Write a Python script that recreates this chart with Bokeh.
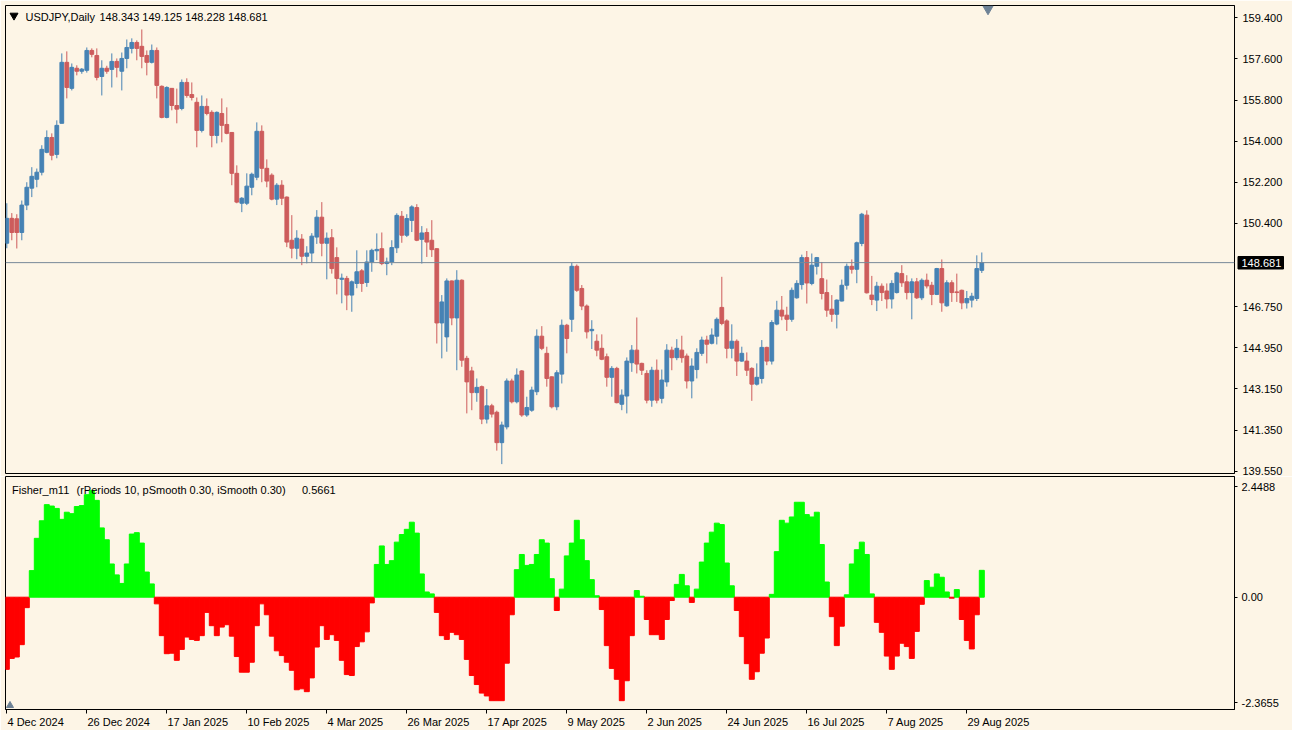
from bokeh.plotting import figure
from bokeh.layouts import column
from bokeh.models import (Range1d, LinearAxis, FixedTicker, NumeralTickFormatter,
                          Label, Span, ColumnDataSource)
from bokeh.core.properties import value
from bokeh.embed import file_html
from bokeh.resources import INLINE

# ---------------- data ----------------
symbol = "USDJPY,Daily"
opens = [149.53, 150.62, 150.60, 150.00, 151.20, 151.94, 152.33, 152.64, 153.51, 154.16,
         153.42, 154.78, 157.45, 156.31, 157.19, 157.06, 157.10, 157.97, 157.75, 156.83,
         157.19, 157.14, 157.49, 157.06, 157.62, 158.06, 158.32, 158.15, 157.75, 157.45,
         157.97, 156.40, 155.04, 156.31, 155.56, 155.43, 156.57, 156.04, 155.70, 154.47,
         155.52, 155.26, 154.25, 155.21, 154.73, 154.38, 152.59, 151.28, 151.28, 151.98,
         152.42, 154.43, 152.81, 152.51, 151.46, 152.07, 151.55, 149.66, 149.31, 149.71,
         148.96, 149.10, 149.80, 150.67, 149.53, 149.77, 148.90, 147.95, 147.99, 147.26,
         147.77, 148.32, 147.81, 148.71, 149.20, 149.29, 148.64, 148.71, 149.33, 150.71,
         149.88, 150.53, 151.09, 149.70, 150.00, 149.66, 149.29, 146.04, 145.43, 147.88,
         146.26, 147.91, 144.49, 143.94, 142.99, 143.25, 141.83, 142.41, 142.13, 140.80,
         141.49, 143.50, 142.59, 143.94, 142.01, 142.22, 143.03, 145.46, 144.71, 143.68,
         142.37, 143.80, 145.94, 146.20, 148.52, 147.55, 146.78, 145.70, 145.24, 144.93,
         144.56, 143.66, 144.05, 142.48, 142.84, 144.30, 144.85, 144.27, 143.83, 142.66,
         143.97, 142.74, 143.46, 144.85, 144.52, 144.85, 144.59, 143.50, 144.00, 144.71,
         145.29, 145.15, 145.46, 146.72, 146.13, 144.93, 145.24, 144.37, 144.37, 144.05,
         143.36, 143.61, 144.97, 144.37, 145.99, 146.60, 146.38, 146.20, 147.14, 147.72,
         148.90, 147.77, 148.52, 147.98, 147.37, 146.64, 146.42, 147.00, 147.69, 148.52,
         148.39, 149.52, 150.76, 147.26, 147.04, 147.65, 147.44, 147.09, 147.37, 148.20,
         147.84, 147.37, 147.84, 147.14, 147.91, 147.69, 147.29, 148.42, 146.79, 147.80,
         147.40, 147.47, 146.92, 147.04, 147.11, 148.343]
highs = [151.28, 150.85, 150.80, 151.40, 152.20, 152.86, 152.80, 153.82, 154.47, 154.34,
         154.91, 157.84, 157.93, 157.40, 157.32, 157.20, 158.10, 158.06, 158.06, 157.54,
         157.30, 157.84, 157.62, 157.88, 158.45, 158.50, 158.41, 158.89, 157.97, 158.23,
         158.10, 156.44, 156.40, 156.31, 156.30, 156.70, 156.75, 156.57, 155.91, 156.00,
         155.87, 155.35, 155.30, 155.87, 155.48, 154.40, 152.94, 151.55, 152.59, 152.62,
         154.82, 154.69, 153.20, 152.59, 152.16, 152.29, 151.58, 150.76, 150.10, 149.93,
         149.40, 149.97, 150.98, 151.33, 150.00, 150.15, 149.35, 148.20, 148.10, 147.90,
         149.22, 148.40, 149.22, 149.29, 149.96, 150.00, 148.90, 149.66, 150.84, 150.94,
         150.80, 151.19, 151.24, 150.28, 150.18, 150.54, 149.31, 147.26, 147.99, 147.90,
         148.35, 147.95, 144.60, 144.12, 143.61, 143.30, 143.15, 142.50, 142.20, 141.72,
         143.61, 143.60, 144.05, 143.98, 142.81, 143.25, 145.76, 145.90, 145.00, 143.70,
         143.97, 146.19, 146.00, 148.67, 148.60, 147.70, 146.85, 146.16, 145.54, 145.54,
         144.70, 144.15, 144.12, 143.13, 144.53, 145.07, 146.28, 144.30, 143.97, 144.12,
         144.44, 144.00, 145.11, 145.00, 145.33, 145.48, 144.70, 144.49, 144.93, 145.44,
         145.48, 145.80, 146.28, 148.06, 146.20, 145.98, 145.32, 145.00, 144.75, 144.10,
         144.27, 145.29, 145.00, 146.16, 147.01, 147.22, 146.75, 147.59, 147.91, 149.03,
         149.19, 149.08, 148.93, 148.71, 147.94, 147.26, 147.07, 147.94, 148.64, 148.82,
         149.60, 150.86, 150.97, 148.10, 147.84, 147.77, 147.77, 147.91, 148.28, 148.57,
         148.13, 147.99, 148.01, 147.99, 148.20, 147.84, 148.45, 148.82, 147.91, 147.91,
         148.20, 147.50, 147.44, 147.36, 149.00, 149.125]
lows = [149.31, 149.66, 149.30, 149.66, 150.98, 151.55, 151.98, 152.50, 153.47, 153.16,
        153.25, 154.78, 155.87, 156.22, 156.88, 156.95, 157.00, 157.67, 156.66, 156.00,
        156.95, 156.35, 156.79, 156.22, 157.19, 157.84, 157.54, 157.19, 156.88, 157.40,
        155.87, 155.00, 155.00, 155.35, 154.78, 155.35, 155.90, 155.78, 153.73, 154.38,
        155.13, 153.73, 153.90, 153.95, 154.30, 152.07, 151.28, 150.89, 151.20, 151.63,
        152.29, 152.20, 151.98, 151.41, 151.20, 151.20, 149.36, 148.87, 148.83, 148.57,
        148.65, 148.70, 149.50, 148.96, 147.95, 148.20, 147.29, 146.90, 146.60, 146.53,
        147.56, 147.40, 147.62, 148.28, 148.79, 148.57, 148.13, 148.57, 149.10, 149.55,
        149.80, 150.02, 149.62, 148.64, 148.93, 148.93, 145.14, 144.49, 144.78, 145.94,
        143.97, 144.12, 142.08, 142.22, 142.59, 141.61, 141.64, 141.90, 140.45, 139.86,
        141.38, 142.52, 142.52, 141.93, 141.93, 142.15, 142.88, 144.85, 143.25, 142.30,
        142.22, 143.39, 144.71, 145.65, 147.40, 146.60, 145.36, 144.90, 144.58, 144.41,
        143.25, 142.81, 142.52, 142.22, 142.08, 143.90, 143.83, 143.76, 142.52, 142.37,
        142.52, 142.52, 143.25, 143.97, 144.41, 144.30, 143.17, 142.74, 143.61, 144.60,
        144.27, 145.10, 145.10, 145.94, 144.49, 144.49, 143.72, 144.34, 143.72, 142.63,
        143.30, 143.39, 144.19, 144.22, 145.94, 146.16, 145.69, 146.09, 147.10, 147.50,
        146.89, 147.69, 148.16, 147.07, 146.31, 146.09, 145.80, 146.98, 147.50, 148.20,
        147.78, 149.40, 147.33, 146.82, 146.56, 147.00, 146.67, 146.67, 147.33, 147.62,
        147.07, 146.20, 147.09, 147.04, 147.55, 146.82, 147.26, 146.53, 146.75, 146.96,
        146.96, 146.64, 146.67, 146.72, 147.00, 148.228]
closes = [150.62, 150.00, 150.00, 151.20, 151.98, 152.46, 152.64, 153.64, 154.16, 153.38,
          154.69, 157.45, 156.35, 157.23, 157.06, 157.15, 157.97, 157.80, 156.79, 157.19,
          157.06, 157.49, 157.23, 157.62, 158.10, 158.32, 158.06, 157.71, 157.45, 157.97,
          156.44, 155.04, 156.35, 155.56, 155.40, 156.57, 156.00, 155.91, 154.47, 155.52,
          155.21, 154.25, 155.26, 154.69, 154.34, 152.59, 151.33, 151.50, 152.03, 152.55,
          154.43, 152.81, 152.25, 151.46, 152.07, 151.50, 149.58, 149.31, 149.75, 148.96,
          149.10, 149.84, 150.67, 149.53, 149.75, 148.42, 147.99, 148.00, 147.26, 147.84,
          148.28, 147.77, 148.71, 149.22, 149.26, 148.64, 148.71, 149.34, 150.75, 149.88,
          150.61, 151.12, 149.66, 149.98, 149.58, 149.25, 146.04, 146.96, 147.88, 146.26,
          147.91, 144.41, 143.46, 142.99, 143.22, 141.83, 142.41, 142.05, 140.80, 141.57,
          143.50, 142.59, 143.76, 142.01, 142.34, 143.10, 145.46, 144.93, 143.61, 142.37,
          143.86, 145.94, 145.36, 148.52, 147.47, 146.78, 145.65, 145.76, 144.85, 144.45,
          143.66, 144.05, 142.55, 142.88, 144.37, 144.85, 144.24, 143.97, 142.66, 143.97,
          142.66, 143.54, 144.85, 144.52, 144.93, 144.52, 143.50, 144.15, 144.75, 145.29,
          145.11, 145.51, 146.20, 146.02, 144.93, 145.24, 144.37, 144.71, 143.97, 143.36,
          143.66, 144.97, 144.37, 146.06, 146.60, 146.34, 146.20, 147.47, 147.77, 148.90,
          147.79, 148.57, 148.90, 147.33, 146.60, 146.42, 147.04, 147.69, 148.52, 148.39,
          149.55, 150.80, 147.36, 147.07, 147.65, 147.37, 147.09, 147.77, 148.23, 147.80,
          147.37, 147.84, 147.14, 147.91, 147.66, 147.29, 148.42, 146.92, 147.80, 147.37,
          147.37, 146.92, 147.11, 147.21, 148.42, 148.681]

indicator_name = "Fisher_m11"
indicator_params = "(rPeriods 10, pSmooth 0.30, iSmooth 0.30)"
fisher = [-1.52, -1.29, -1.26, -1.00, -0.22, 0.56, 1.24, 1.61, 1.95, 1.92,
          1.87, 1.64, 1.79, 1.76, 1.91, 1.93, 2.16, 2.25, 2.04, 1.46,
          1.21, 0.70, 0.47, 0.29, 0.70, 1.33, 1.36, 1.14, 0.53, 0.28,
          -0.14, -0.81, -1.19, -1.18, -1.33, -1.10, -0.84, -0.89, -0.91, -0.81,
          -0.32, -0.60, -0.81, -0.63, -0.58, -0.82, -1.25, -1.58, -1.58, -1.37,
          -0.60, -0.14, -0.37, -0.82, -1.13, -1.23, -1.37, -1.54, -1.95, -1.93,
          -1.99, -1.70, -1.05, -0.60, -0.89, -0.79, -0.91, -1.33, -1.63, -1.65,
          -1.04, -0.94, -0.73, -0.12, 0.69, 1.08, 0.69, 0.77, 1.16, 1.32,
          1.43, 1.58, 1.35, 0.49, 0.11, 0.07, -0.32, -0.81, -0.89, -0.74,
          -0.79, -0.89, -1.31, -1.65, -1.84, -2.02, -2.08, -2.18, -2.18, -2.18,
          -1.39, -0.37, 0.58, 0.90, 0.67, 0.69, 0.90, 1.21, 1.14, 0.39,
          -0.28, 0.17, 0.87, 1.14, 1.62, 1.21, 0.77, 0.37, 0.03, -0.26,
          -1.02, -1.50, -1.73, -2.18, -1.76, -0.81, 0.14, 0.02, -0.47, -0.79,
          -0.79, -0.89, -0.47, -0.07, 0.27, 0.48, 0.24, -0.11, 0.17, 0.74,
          1.14, 1.37, 1.56, 1.53, 0.72, 0.24, -0.28, -0.83, -1.40, -1.73,
          -1.57, -1.18, -0.86, 0.06, 0.96, 1.62, 1.56, 1.69, 2.00, 2.00,
          1.74, 1.69, 1.79, 1.11, 0.32, -0.41, -1.02, -0.61, 0.05, 0.70,
          1.00, 1.16, 0.90, 0.07, -0.53, -0.74, -1.24, -1.52, -1.24, -0.97,
          -1.04, -1.29, -0.72, -0.15, 0.35, 0.21, 0.49, 0.42, 0.11, -0.02,
          0.16, -0.47, -0.91, -1.09, -0.37, 0.5661]
fisher_max_label = "2.4488"
fisher_zero_label = "0.00"
fisher_min_label = "-2.3655"

date_tick_bars = [0, 16, 32, 48, 64, 80, 96, 112, 128, 144, 160, 176, 192]
date_tick_labels = ["4 Dec 2024", "26 Dec 2024", "17 Jan 2025", "10 Feb 2025", "4 Mar 2025",
                    "26 Mar 2025", "17 Apr 2025", "9 May 2025", "2 Jun 2025", "24 Jun 2025",
                    "16 Jul 2025", "7 Aug 2025", "29 Aug 2025"]
price_ticks = [139.55, 141.35, 143.15, 144.95, 146.75, 150.40, 152.20, 154.00, 155.80, 157.60, 159.40]

# ---------------- style / layout ----------------
CREAM = "#FDF5E6"
BULL = "#4682B4"
BEAR = "#CD5C5C"
FONT = "Liberation Sans"
FS = "11px"

FRAME_LEFT = 5
FRAME_W = 1229
PX_PER_BAR = 5.0
BAR0_PX = 6.3
MAIN_TOP, MAIN_H = 5, 468
SUB_TOP, SUB_H = 476, 233
RIGHT_BORDER = 58

x_start = (FRAME_LEFT - BAR0_PX) / PX_PER_BAR
x_end = x_start + FRAME_W / PX_PER_BAR
y1_end, y1_start = 159.938, 139.449
y2_end, y2_start = 2.5427, -2.3657


def xd(px):
    return (px - BAR0_PX) / PX_PER_BAR


def yd1(py):
    return y1_end - (py - MAIN_TOP) * (y1_end - y1_start) / MAIN_H


def yd2(py):
    return y2_end - (py - SUB_TOP) * (y2_end - y2_start) / SUB_H


ARIAL = {' ': 278, '.': 278, ',': 278, '-': 333, 'D': 722, 'e': 556, 'c': 500, 'J': 500,
         'a': 556, 'n': 556, 'F': 611, 'b': 556, 'M': 833, 'r': 333, 'A': 667, 'p': 556,
         'y': 500, 'u': 556, 'l': 222, 'g': 556}


def text_w(s, size=11):
    return sum(556 if ch.isdigit() else ARIAL.get(ch, 556) for ch in s) / 1000.0 * size


n = len(closes)
idx = list(range(n))
colors = [BULL if c >= o else BEAR for o, c in zip(opens, closes)]
src = ColumnDataSource(dict(
    x=idx, high=highs, low=lows,
    top=[max(o, c) for o, c in zip(opens, closes)],
    bottom=[min(o, c) for o, c in zip(opens, closes)],
    color=colors))

xr = Range1d(x_start, x_end)

p1 = figure(frame_width=FRAME_W, frame_height=MAIN_H, x_range=xr,
            y_range=Range1d(y1_start, y1_end), output_backend="svg",
            toolbar_location=None, x_axis_location=None, y_axis_location=None,
            min_border_left=FRAME_LEFT, min_border_right=RIGHT_BORDER,
            min_border_top=MAIN_TOP, min_border_bottom=3,
            background_fill_color=CREAM, border_fill_color=CREAM,
            outline_line_color="black", outline_line_width=1)
p1.grid.grid_line_color = None

ax1 = LinearAxis(ticker=FixedTicker(ticks=price_ticks),
                 formatter=NumeralTickFormatter(format="0.000"),
                 major_tick_out=3, major_tick_in=0, minor_tick_line_color=None,
                 axis_line_color="black", major_tick_line_color="black",
                 major_label_standoff=5, major_label_text_font=FONT,
                 major_label_text_font_size=FS, major_label_text_color="black")
p1.add_layout(ax1, "right")

p1.add_layout(Span(location=closes[-1], dimension="width", line_color="#778899", line_width=1))

p1.segment(x0="x", y0="low", x1="x", y1="high", color="color", line_width=1, source=src)
p1.vbar(x="x", width=0.75, top="top", bottom="bottom", fill_color="color",
        line_color="color", line_width=1, source=src)

# current-price box on the price scale (drawn on the overlay level, above the axis)
p1.quad(left=[xd(1237.5)], right=[xd(1283)], top=[yd1(256)], bottom=[yd1(268.5)],
        fill_color="black", line_color="black", level="overlay")
p1.text(x=[xd(1241)], y=[closes[-1]], text=["%.3f" % closes[-1]], text_font=value(FONT),
        text_font_size=value(FS), text_color="white", text_align="left",
        text_baseline="middle", level="overlay")

# header
p1.scatter([xd(13.5)], [yd1(15)], marker="inverted_triangle", size=8, color="black")
p1.add_layout(Label(x=xd(25), y=yd1(16), text=symbol, text_font=FONT, text_font_size=FS,
                    text_color="black", text_align="left", text_baseline="middle"))
ohlc_text = "%.3f %.3f %.3f %.3f" % (opens[-1], highs[-1], lows[-1], closes[-1])
p1.add_layout(Label(x=xd(99), y=yd1(16), text=ohlc_text, text_font=FONT, text_font_size=FS,
                    text_color="black", text_align="left", text_baseline="middle"))
# chart shift marker
p1.scatter([xd(987.5)], [yd1(8.5)], marker="inverted_triangle", size=10, color="#6E8296")

# ---------------- indicator panel ----------------
p2 = figure(frame_width=FRAME_W, frame_height=SUB_H, x_range=xr,
            y_range=Range1d(y2_start, y2_end), output_backend="svg",
            toolbar_location=None, x_axis_location=None, y_axis_location=None,
            min_border_left=FRAME_LEFT, min_border_right=RIGHT_BORDER,
            min_border_top=0, min_border_bottom=0,
            background_fill_color=CREAM, border_fill_color=CREAM,
            outline_line_color="black", outline_line_width=1)
p2.grid.grid_line_color = None

fcol = ["#00FF00" if v > 0 else "#FF0000" for v in fisher]
fsrc = ColumnDataSource(dict(x=idx, top=fisher, color=fcol))
p2.vbar(x="x", width=1.0, top="top", bottom=0, fill_color="color", line_color="color",
        line_width=1, source=fsrc)

t_max = yd2(486)
t_min = yd2(702)
ax2 = LinearAxis(ticker=FixedTicker(ticks=[t_min, 0.0, t_max]),
                 major_label_overrides={t_min: fisher_min_label, 0.0: fisher_zero_label,
                                        t_max: fisher_max_label},
                 major_tick_out=3, major_tick_in=0, minor_tick_line_color=None,
                 axis_line_color="black", major_label_standoff=4,
                 major_label_text_font=FONT, major_label_text_font_size=FS,
                 major_label_text_color="black")
p2.add_layout(ax2, "right")

# date axis: tick marks at the bars, labels starting at the tick
axA = LinearAxis(ticker=FixedTicker(ticks=date_tick_bars),
                 major_label_overrides={b: "" for b in date_tick_bars},
                 major_label_text_font_size="0px", major_label_standoff=0,
                 major_tick_out=4, major_tick_in=0, minor_tick_line_color=None,
                 axis_line_color="black", major_tick_line_color="black")
p2.add_layout(axA, "below")
label_pos = [b + (0.7 + text_w(l) / 2.0) / PX_PER_BAR for b, l in zip(date_tick_bars, date_tick_labels)]
axB = LinearAxis(ticker=FixedTicker(ticks=label_pos),
                 major_label_overrides={p: l for p, l in zip(label_pos, date_tick_labels)},
                 major_tick_out=0, major_tick_in=0, minor_tick_line_color=None,
                 axis_line_color=None, major_tick_line_color=None, major_label_standoff=2,
                 major_label_text_font=FONT, major_label_text_font_size=FS,
                 major_label_text_color="black")
p2.add_layout(axB, "below")

p2.add_layout(Label(x=xd(11.5), y=yd2(489), text=indicator_name, text_font=FONT,
                    text_font_size=FS, text_color="black", text_align="left",
                    text_baseline="middle"))
p2.add_layout(Label(x=xd(76), y=yd2(489), text=indicator_params, text_font=FONT,
                    text_font_size=FS, text_color="black", text_align="left",
                    text_baseline="middle"))
p2.add_layout(Label(x=xd(301.5), y=yd2(489), text="%.4f" % fisher[-1], text_font=FONT,
                    text_font_size=FS, text_color="black", text_align="left",
                    text_baseline="middle"))
p2.scatter([xd(9.5)], [yd2(705)], marker="triangle", size=7, color="#6E8296")

layout = column(p1, p2, spacing=0)

html = file_html(layout, INLINE, title="USDJPY Daily")
with open("out.html", "w") as f:
    f.write(html)
